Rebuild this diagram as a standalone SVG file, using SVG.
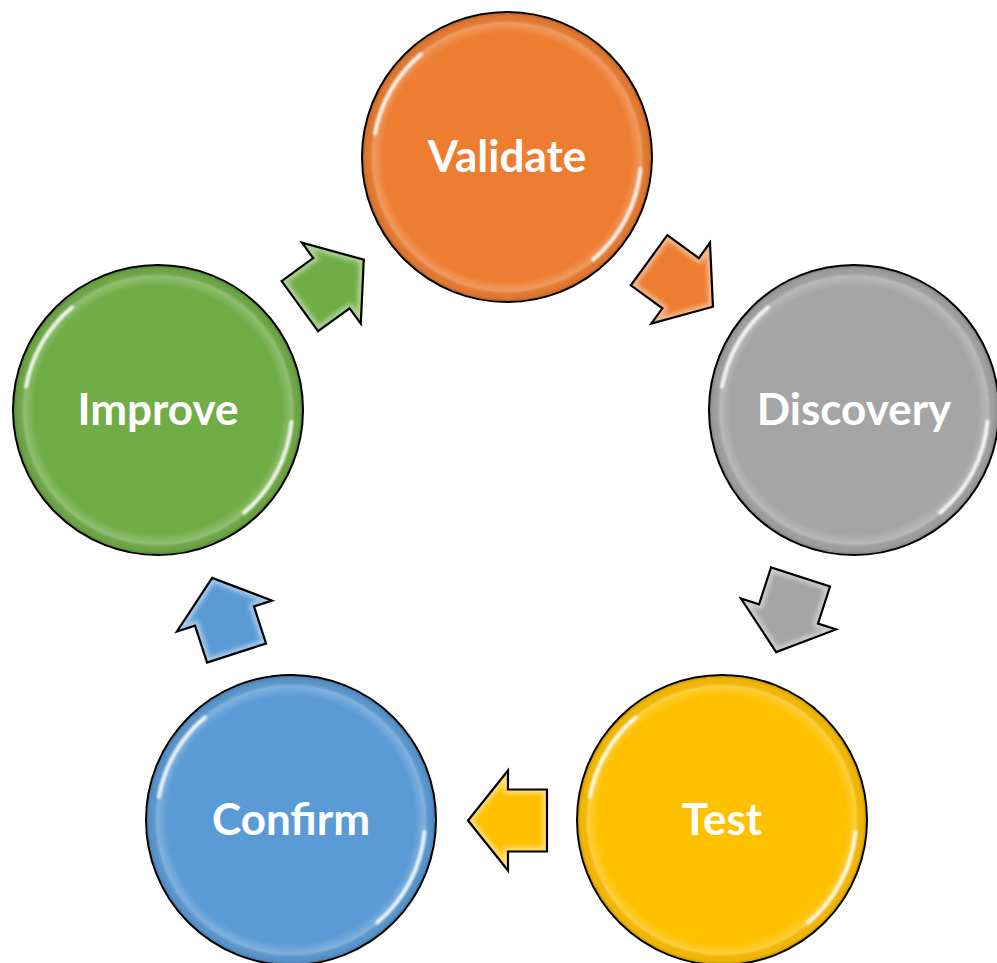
<svg xmlns="http://www.w3.org/2000/svg" xmlns:xlink="http://www.w3.org/1999/xlink" width="997" height="963" viewBox="0 0 997 963">
  <style>
    .disc { stroke: #000; stroke-width: 2; }
    .gloss { fill: url(#ring); }
    .hl { fill: none; stroke: #fff; stroke-width: 4; stroke-linecap: round; opacity: 0.85; filter: url(#soft); }
    .label { font-family: Lato, "Open Sans", "Liberation Sans", sans-serif; font-weight: bold; font-size: 44px; fill: #fff; text-anchor: middle; }
    .arrfill { stroke: none; }
    .arrline { fill: none; stroke: #000; stroke-width: 2.2; stroke-linejoin: miter; }
    .bevel { fill: none; stroke: #fff; stroke-width: 9; opacity: 0.45; filter: url(#soft2); clip-path: url(#arrClip); }
  </style>
  <defs>
    <radialGradient id="ring" cx="0.5" cy="0.5" r="0.5">
      <stop offset="0" stop-color="#fff" stop-opacity="0"/>
      <stop offset="0.86" stop-color="#fff" stop-opacity="0"/>
      <stop offset="0.93" stop-color="#fff" stop-opacity="0.22"/>
      <stop offset="0.975" stop-color="#000" stop-opacity="0.04"/>
      <stop offset="1" stop-color="#000" stop-opacity="0.18"/>
    </radialGradient>
    <filter id="soft" x="-20%" y="-20%" width="140%" height="140%">
      <feGaussianBlur stdDeviation="1.3"/>
    </filter>
    <filter id="soft2" x="-20%" y="-20%" width="140%" height="140%">
      <feGaussianBlur stdDeviation="2"/>
    </filter>
    <path id="arrowShape" d="M -39,-31 L 0,-31 L 0,-50 L 40,0 L 0,50 L 0,31 L -39,31 Z"/>
    <clipPath id="arrClip" clipPathUnits="userSpaceOnUse">
      <use xlink:href="#arrowShape"/>
    </clipPath>
    <path id="hlA" d="M -132,-23.3 A 134 134 0 0 1 -86.1,-102.6"/>
    <path id="hlB" d="M 133.5,11.7 A 134 134 0 0 1 86.1,102.6"/>
  </defs>

  <g id="connectors">
    <g id="arrow-improve-validate" transform="translate(331.4,283.2) rotate(-36)">
      <use xlink:href="#arrowShape" class="arrfill" fill="#70AD47"/>
      <use xlink:href="#arrowShape" class="bevel"/>
      <use xlink:href="#arrowShape" class="arrline"/>
    </g>
    <g id="arrow-validate-discovery" transform="translate(680.6,283.2) rotate(36)">
      <use xlink:href="#arrowShape" class="arrfill" fill="#ED7D31"/>
      <use xlink:href="#arrowShape" class="bevel"/>
      <use xlink:href="#arrowShape" class="arrline"/>
    </g>
    <g id="arrow-discovery-test" transform="translate(788.5,614) rotate(108)">
      <use xlink:href="#arrowShape" class="arrfill" fill="#A5A5A5"/>
      <use xlink:href="#arrowShape" class="bevel"/>
      <use xlink:href="#arrowShape" class="arrline"/>
    </g>
    <g id="arrow-test-confirm" transform="translate(508,820.5) rotate(180)">
      <use xlink:href="#arrowShape" class="arrfill" fill="#FFC000"/>
      <use xlink:href="#arrowShape" class="bevel"/>
      <use xlink:href="#arrowShape" class="arrline"/>
    </g>
    <g id="arrow-confirm-improve" transform="translate(224.5,616) rotate(-108)">
      <use xlink:href="#arrowShape" class="arrfill" fill="#5B9BD5"/>
      <use xlink:href="#arrowShape" class="bevel"/>
      <use xlink:href="#arrowShape" class="arrline"/>
    </g>
  </g>

  <g id="node-validate" transform="translate(507,157)">
    <circle r="145" class="disc" fill="#ED7D31"/>
    <circle r="144" class="gloss"/>
    <use xlink:href="#hlA" class="hl"/>
    <use xlink:href="#hlB" class="hl"/>
    <text x="0" y="15" class="label">Validate</text>
  </g>
  <g id="node-discovery" transform="translate(854,410)">
    <circle r="145" class="disc" fill="#A5A5A5"/>
    <circle r="144" class="gloss"/>
    <use xlink:href="#hlA" class="hl"/>
    <use xlink:href="#hlB" class="hl"/>
    <text x="0" y="15" class="label">Discovery</text>
  </g>
  <g id="node-test" transform="translate(722,820)">
    <circle r="145" class="disc" fill="#FFC000"/>
    <circle r="144" class="gloss"/>
    <use xlink:href="#hlA" class="hl"/>
    <use xlink:href="#hlB" class="hl"/>
    <text x="0" y="15" class="label">Test</text>
  </g>
  <g id="node-confirm" transform="translate(291,820)">
    <circle r="145" class="disc" fill="#5B9BD5"/>
    <circle r="144" class="gloss"/>
    <use xlink:href="#hlA" class="hl"/>
    <use xlink:href="#hlB" class="hl"/>
    <text x="0" y="15" class="label">Confirm</text>
  </g>
  <g id="node-improve" transform="translate(158,410)">
    <circle r="145" class="disc" fill="#70AD47"/>
    <circle r="144" class="gloss"/>
    <use xlink:href="#hlA" class="hl"/>
    <use xlink:href="#hlB" class="hl"/>
    <text x="0" y="15" class="label">Improve</text>
  </g>
</svg>
